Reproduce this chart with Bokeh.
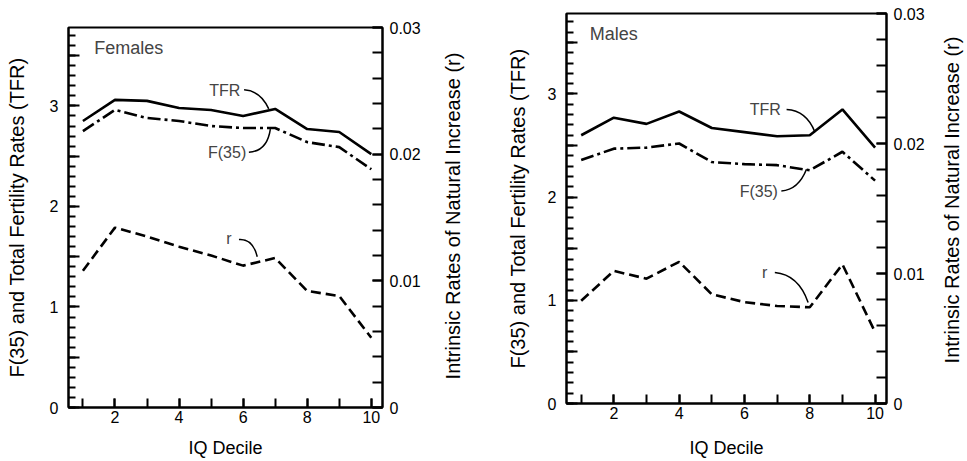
from bokeh.plotting import figure
from bokeh.models import Range1d, LinearAxis, FixedTicker, Label, CustomJSTickFormatter, Div
from bokeh.layouts import row, column
from bokeh.embed import file_html
from bokeh.resources import INLINE

# ---------------- data ----------------
deciles = [1, 2, 3, 4, 5, 6, 7, 8, 9, 10]

fem_tfr = [2.85, 3.06, 3.05, 2.98, 2.96, 2.90, 2.97, 2.77, 2.74, 2.52]
fem_f35 = [2.75, 2.96, 2.88, 2.85, 2.80, 2.78, 2.78, 2.64, 2.59, 2.37]
fem_r = [0.0108, 0.0142, 0.0135, 0.0127, 0.0120, 0.0112, 0.0118, 0.0092, 0.0088, 0.0055]

male_tfr = [2.60, 2.77, 2.71, 2.83, 2.67, 2.63, 2.59, 2.60, 2.85, 2.48]
male_f35 = [2.36, 2.47, 2.48, 2.52, 2.34, 2.32, 2.31, 2.26, 2.44, 2.16]
male_r = [0.0079, 0.0102, 0.0096, 0.0109, 0.0084, 0.0078, 0.0075, 0.0074, 0.0107, 0.0055]

left_ticks = [0, 0.5, 1, 1.5, 2, 2.5, 3, 3.5]
right_ticks = [0, 0.01, 0.02, 0.03]
x_ticks = [2, 4, 6, 8, 10]

LEFT_TITLE = "F(35) and Total Fertility Rates (TFR)"
RIGHT_TITLE = "Intrinsic Rates of Natural Increase (r)"
X_TITLE = "IQ Decile"

FONT = "Liberation Sans"
X_LO, X_HI = 0.55, 10.35
FIG_H = 460


def make_panel(name, tfr, f35, r, width, bl, br, bt, bb, name_pos, labels, leaders,
               left_title_std, bottom_title_std):
    p = figure(width=width, height=FIG_H, output_backend="svg", toolbar_location=None,
               x_range=Range1d(X_LO, X_HI), y_range=Range1d(0, 3.78),
               min_border_left=bl, min_border_right=br, min_border_top=bt, min_border_bottom=bb,
               background_fill_color="white", border_fill_color="white")
    p.extra_y_ranges = {"r": Range1d(0, 0.03)}
    p.xgrid.visible = False
    p.ygrid.visible = False
    p.outline_line_color = "black"
    p.outline_line_width = 2

    xa = p.xaxis[0]
    xa.ticker = FixedTicker(ticks=x_ticks, minor_ticks=deciles)
    xa.axis_label = X_TITLE

    ya = p.yaxis[0]
    ya.ticker = FixedTicker(ticks=left_ticks, minor_ticks=[k / 10 for k in range(0, 38)])
    ya.formatter = CustomJSTickFormatter(code="return (Math.abs(tick - Math.round(tick)) < 1e-6) ? Math.round(tick).toString() : '';")
    ya.axis_label = LEFT_TITLE

    ra = LinearAxis(y_range_name="r", ticker=FixedTicker(ticks=right_ticks, minor_ticks=[k * 0.002 for k in range(16)]))
    ra.formatter = CustomJSTickFormatter(code="return tick < 1e-9 ? '0' : tick.toFixed(2);")
    p.add_layout(ra, "right")

    for ax in [xa, ya, ra]:
        ax.axis_line_width = 2
        ax.axis_line_color = "black"
        ax.major_tick_line_width = 2
        ax.minor_tick_line_width = 2
        ax.major_tick_out = 0
        ax.minor_tick_out = 0
        ax.major_label_text_font = FONT
        ax.major_label_text_font_size = "16px"
        ax.major_label_text_color = "black"
        ax.axis_label_text_font = FONT
        ax.axis_label_text_font_style = "normal"
        ax.axis_label_text_color = "black"
    xa.axis_label_text_font_size = "18px"
    ya.axis_label_text_font_size = "20px"
    xa.major_tick_in = 9
    xa.minor_tick_in = 9
    xa.major_label_standoff = 3
    xa.axis_label_standoff = bottom_title_std
    ya.major_tick_in = 11
    ya.minor_tick_in = 7
    ya.major_label_standoff = 10
    ya.axis_label_standoff = left_title_std
    ra.major_tick_in = 10
    ra.minor_tick_in = 10
    ra.major_label_standoff = 7

    p.line(deciles, tfr, line_color="black", line_width=2.6)
    p.line(deciles, f35, line_color="black", line_width=2.6, line_dash="13 4 3 4")
    p.line(deciles, r, line_color="black", line_width=2.6, line_dash="10 5", y_range_name="r")

    p.add_layout(Label(x=name_pos[0], y=name_pos[1], text=name, text_font=FONT,
                       text_font_size="18px", text_baseline="middle", text_align="left"))
    for txt, lx, ly in labels:
        p.add_layout(Label(x=lx, y=ly, text=txt, text_font=FONT, text_font_size="16px",
                           text_baseline="middle", text_align="center"))
    x0, y0, cx, cy, x1, y1 = leaders
    p.quadratic(x0=x0, y0=y0, cx=cx, cy=cy, x1=x1, y1=y1, line_color="black", line_width=1.5)
    return p


def side_title(width, cx, cy):
    html = (
        f'<div style="position:relative;width:{width}px;height:{FIG_H}px;">'
        f'<div style="position:absolute;left:{cx}px;top:{cy}px;'
        f'transform:translate(-50%,-50%) rotate(-90deg);white-space:nowrap;'
        f"font-family:'{FONT}';font-size:20px;line-height:22px;color:black;\">"
        f'{RIGHT_TITLE}</div></div>'
    )
    return Div(text=html, width=width, height=FIG_H, margin=0)


fem = make_panel("Females", fem_tfr, fem_f35, fem_r, 430, 68, 48, 27, 50, (1.35, 3.58),
                 [("TFR", 5.43, 3.15), ("F(35)", 5.5, 2.54), ("r", 5.56, 1.68)],
                 ([6.03, 6.18, 5.87], [3.16, 2.54, 1.67], [6.55, 6.75, 6.3], [3.15, 2.55, 1.68],
                  [6.8, 6.85, 6.44], [2.97, 2.77, 1.50]), 19, 12)
fem_title = side_title(50, 23, 216)

male = make_panel("Males", male_tfr, male_f35, male_r, 447, 86, 40, 13, 56, (1.26, 3.58),
                  [("TFR", 6.64, 2.85), ("F(35)", 6.44, 2.05), ("r", 6.62, 1.27)],
                  ([7.29, 7.13, 6.93], [2.85, 2.06, 1.27], [7.9, 7.65, 7.65], [2.84, 2.07, 1.25],
                   [8.16, 7.9, 7.95], [2.63, 2.27, 0.98]), 16, 16)
male_title = side_title(38, 25, 200)

layout = row(column(fem), fem_title, column(male), male_title)
open("out.html", "w").write(file_html(layout, INLINE))
